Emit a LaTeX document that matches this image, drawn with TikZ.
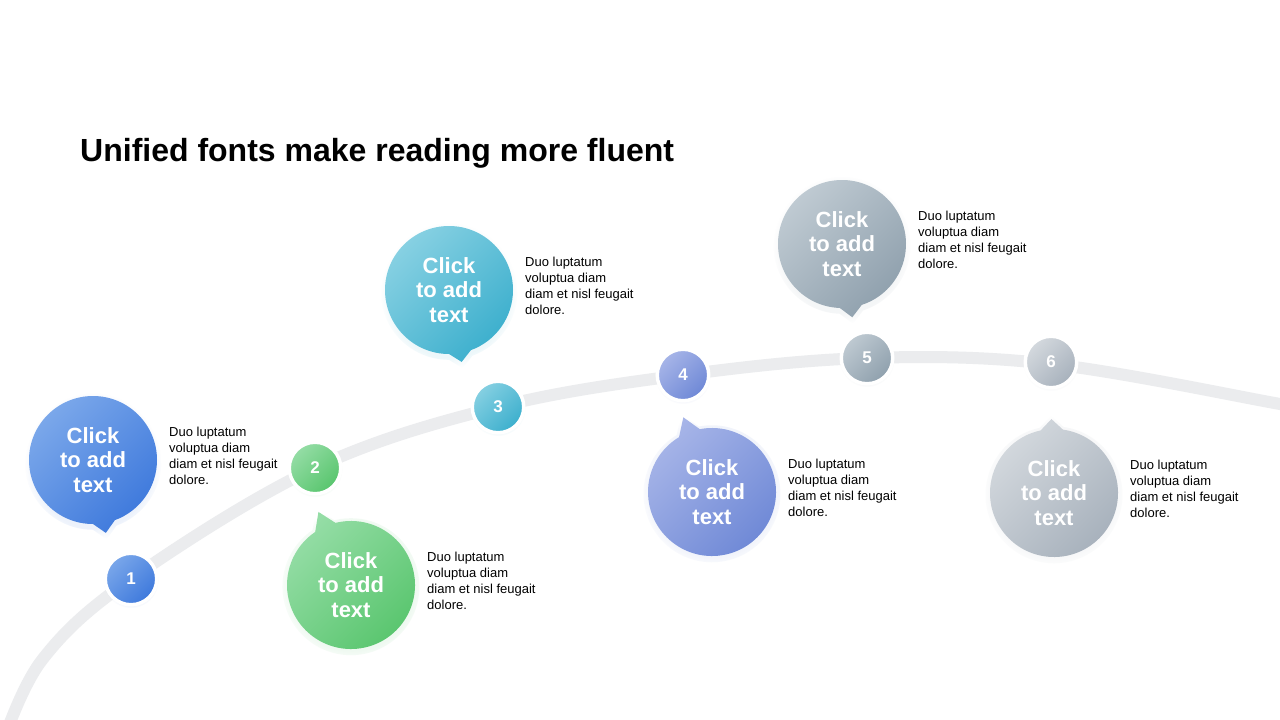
\documentclass[tikz,border=0pt]{standalone}
\usepackage{fontspec}
\setmainfont{Liberation Sans}
\usepackage{tikz}
\usetikzlibrary{calc,shadows}
\definecolor{trackgray}{RGB}{235,236,238}
\definecolor{bluel}{RGB}{122,167,234}
\definecolor{blued}{RGB}{62,121,220}
\definecolor{greenl}{RGB}{149,221,166}
\definecolor{greend}{RGB}{88,197,109}
\definecolor{cyanl}{RGB}{134,208,226}
\definecolor{cyand}{RGB}{60,175,205}
\definecolor{purl}{RGB}{167,181,232}
\definecolor{purd}{RGB}{110,136,214}
\definecolor{slatel}{RGB}{191,202,210}
\definecolor{slated}{RGB}{143,160,173}
\definecolor{greyl}{RGB}{212,217,222}
\definecolor{greyd}{RGB}{167,177,188}

\begin{document}
\begin{tikzpicture}[
    x=1pt, y=-1pt,
    track/.style={line width=12pt, draw=trackgray},
    glow/.style={circular drop shadow={shadow xshift=0pt, shadow yshift=-1.5pt,
                 shadow scale=1.07, fill=#1, opacity=0.09}},
    num/.style={circle, draw=white, line width=3.5pt, minimum size=51.5pt,
                inner sep=0pt, text=white, font=\fontsize{17}{17}\selectfont\bfseries},
    bubtext/.style={align=center, text=white, inner sep=0pt,
                    font=\fontsize{22}{24.5}\selectfont\bfseries},
    desc/.style={anchor=north west, align=left, inner sep=0pt,
                 font=\fontsize{13}{16}\selectfont},
    title/.style={anchor=base west, inner sep=0pt,
                  font=\fontsize{32}{36}\selectfont\bfseries}
]
    \useasboundingbox[fill=white] (0,0) rectangle (1280,720);

    \node[title] (title) at (80,161) {Unified fonts make reading more fluent};

    % Track
    \draw[track] plot[smooth, tension=0.6] coordinates {(2,745) (42,660) (131,579)
        (315,468) (498,407) (683,375) (867,358) (1051,364) (1280,404) (1310,410)};

    % Markers
    \node[num, glow=blued, top color=bluel, bottom color=blued, shading angle=45] (n1) at (131,579) {1};
    \node[num, glow=greend, top color=greenl, bottom color=greend, shading angle=45] (n2) at (315,468) {2};
    \node[num, glow=cyand, top color=cyanl, bottom color=cyand, shading angle=45] (n3) at (498,407) {3};
    \node[num, glow=purd, top color=purl, bottom color=purd, shading angle=45] (n4) at (683,375) {4};
    \node[num, glow=slated, top color=slatel, bottom color=slated, shading angle=45] (n5) at (867,358) {5};
    \node[num, glow=greyd, top color=greyl, bottom color=greyd, shading angle=45] (n6) at (1051,362) {6};

    % Step 1
    \coordinate (c1) at (93,460);
    \shade[glow=blued, top color=bluel, bottom color=blued, shading angle=45]
        ($(c1)+(90:64)$) arc[start angle=90, end angle=430, radius=64]
        -- ($(c1)+(80:74)$) -- cycle;
    \node[bubtext] (b1) at (c1) {Click\\to add\\text};
    \node[desc] (d1) at ([shift={(76,-33)}]c1)
        {Duo luptatum\\voluptua diam\\diam et nisl feugait\\dolore.};

    % Step 2
    \coordinate (c2) at (351,585);
    \shade[glow=greend, top color=greenl, bottom color=greend, shading angle=45]
        ($(c2)+(-104:64)$) arc[start angle=-104, end angle=236, radius=64]
        -- ($(c2)+(-114:80)$) -- cycle;
    \node[bubtext] (b2) at (c2) {Click\\to add\\text};
    \node[desc] (d2) at ([shift={(76,-33)}]c2)
        {Duo luptatum\\voluptua diam\\diam et nisl feugait\\dolore.};

    % Step 3
    \coordinate (c3) at (449,290);
    \shade[glow=cyand, top color=cyanl, bottom color=cyand, shading angle=45]
        ($(c3)+(90:64)$) arc[start angle=90, end angle=430, radius=64]
        -- ($(c3)+(80:73)$) -- cycle;
    \node[bubtext] (b3) at (c3) {Click\\to add\\text};
    \node[desc] (d3) at ([shift={(76,-33)}]c3)
        {Duo luptatum\\voluptua diam\\diam et nisl feugait\\dolore.};

    % Step 4
    \coordinate (c4) at (712,492);
    \shade[glow=purd, top color=purl, bottom color=purd, shading angle=45]
        ($(c4)+(-101:64)$) arc[start angle=-101, end angle=239, radius=64]
        -- ($(c4)+(-111:80)$) -- cycle;
    \node[bubtext] (b4) at (c4) {Click\\to add\\text};
    \node[desc] (d4) at ([shift={(76,-33)}]c4)
        {Duo luptatum\\voluptua diam\\diam et nisl feugait\\dolore.};

    % Step 5
    \coordinate (c5) at (842,244);
    \shade[glow=slated, top color=slatel, bottom color=slated, shading angle=45]
        ($(c5)+(92:64)$) arc[start angle=92, end angle=432, radius=64]
        -- ($(c5)+(82:74)$) -- cycle;
    \node[bubtext] (b5) at (c5) {Click\\to add\\text};
    \node[desc] (d5) at ([shift={(76,-33)}]c5)
        {Duo luptatum\\voluptua diam\\diam et nisl feugait\\dolore.};

    % Step 6
    \coordinate (c6) at (1054,493);
    \shade[glow=greyd, top color=greyl, bottom color=greyd, shading angle=45]
        ($(c6)+(-82:64)$) arc[start angle=-82, end angle=258, radius=64]
        -- ($(c6)+(-92:74)$) -- cycle;
    \node[bubtext] (b6) at (c6) {Click\\to add\\text};
    \node[desc] (d6) at ([shift={(76,-33)}]c6)
        {Duo luptatum\\voluptua diam\\diam et nisl feugait\\dolore.};
\end{tikzpicture}
\end{document}
